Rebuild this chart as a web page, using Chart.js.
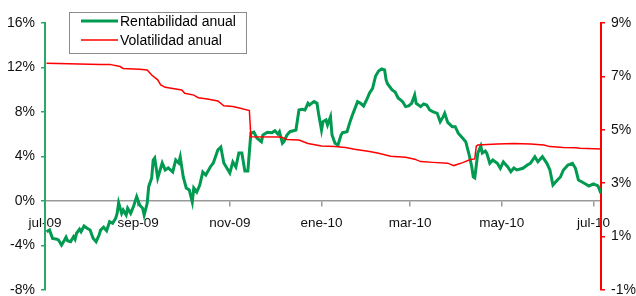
<!DOCTYPE html>
<html>
<head>
<meta charset="utf-8">
<script src="https://cdn.jsdelivr.net/npm/chart.js@4.4.0/dist/chart.umd.min.js"></script>
<style>
  html, body { margin: 0; padding: 0; background: #fff; }
  #wrap { width: 636px; height: 296px; }
</style>
</head>
<body>
<div id="wrap"><canvas id="chart" width="636" height="296"></canvas></div>
<script>
// eje x: días desde el 1-jul-2009
const tickDays = [0, 62, 123, 184, 243, 304, 365];
const tickLabels = ['jul-09', 'sep-09', 'nov-09', 'ene-10', 'mar-10', 'may-10', 'jul-10'];

// Rentabilidad anual (%), eje izquierdo
const rentDays = [1,3,5,8,9,11,13,14,15,17,19,20,21,23,24,26,28,30,32,34,
  36,37,39,41,43,45,47,48,49,51,52,54,55,57,59,61,63,65,66,68,
  69,71,72,73,75,78,80,82,85,87,89,90,92,94,96,98,99,101,103,105,
  107,110,112,115,117,119,121,123,125,127,129,131,133,135,137,139,141,144,145,148,
  151,153,155,156,158,159,161,163,167,169,171,173,175,176,179,181,182,184,185,187,
  188,190,191,193,195,197,198,201,203,205,208,210,212,214,216,218,220,222,224,226,
  227,228,231,233,235,238,240,242,244,246,247,250,252,254,256,258,261,263,265,266,
  268,271,273,275,278,280,282,284,285,286,288,290,291,293,294,296,298,301,303,305,
  308,310,312,314,318,321,323,326,328,331,334,336,338,341,343,345,348,351,353,355,
  358,362,365,368,370];
const rentValues = [-2.76,-2.61,-3.36,-3.44,-3.51,-3.96,-3.51,-3.26,-3.57,-3.66,
  -3.21,-3.44,-2.90,-2.54,-2.76,-2.25,-2.45,-2.61,-3.35,-3.66,
  -3.06,-2.61,-2.36,-2.67,-1.86,-2.00,-1.56,-1.11,-0.15,-1.11,
  -0.81,-1.26,-0.66,-1.11,-0.45,0.39,-0.36,-0.66,-1.26,-0.21,
  1.29,2.07,3.69,3.87,2.07,3.42,2.79,2.97,2.61,3.69,
  3.42,3.96,2.16,1.17,0.99,-0.09,1.17,0.81,1.44,2.61,
  2.34,3.06,3.42,4.58,4.85,3.42,2.97,2.52,3.51,3.06,
  4.31,4.31,2.70,2.70,6.11,6.20,5.66,5.33,5.93,6.18,
  6.14,6.32,6.02,6.23,5.19,5.33,5.93,6.23,6.38,8.18,
  8.24,8.18,8.78,8.63,8.93,8.78,7.88,6.38,7.13,7.28,
  6.83,7.58,5.93,5.19,5.03,5.93,6.14,6.23,7.13,7.88,
  8.93,8.78,8.54,9.08,9.71,10.13,11.24,11.69,11.87,11.78,
  10.88,10.52,9.98,9.80,9.26,8.93,8.48,8.54,8.78,9.53,
  8.78,8.48,8.72,8.63,8.18,8.03,7.88,7.13,7.58,7.88,
  7.06,6.68,6.68,6.09,5.64,5.33,4.29,3.08,2.16,2.07,
  4.31,4.94,4.31,4.49,4.29,3.39,3.69,3.39,2.94,3.51,
  3.06,2.63,2.97,2.79,2.94,3.24,3.39,3.98,3.53,3.98,
  3.39,2.79,1.44,1.89,2.16,2.79,3.24,3.39,2.94,1.89,
  1.66,1.35,1.53,1.35,0.69];

// Volatilidad anual (%), eje derecho
const volDays = [1,37,43,50,52,63,68,71,75,77,80,85,91,93,99,102,108,115,119,125,
  130,136,137,157,161,169,175,184,193,200,206,216,222,230,240,246,250,258,268,272,
  278,283,286,287,288,301,312,323,332,336,345,353,356,370];
const volValues = [7.49,7.45,7.45,7.37,7.30,7.27,7.24,7.05,6.87,6.68,6.59,6.55,6.49,6.37,6.30,6.20,6.15,6.08,5.90,5.87,
  5.81,5.72,4.74,4.73,4.64,4.62,4.49,4.39,4.37,4.34,4.27,4.19,4.12,4.01,3.97,3.90,3.81,3.78,3.75,3.66,
  3.77,3.89,3.91,4.39,4.43,4.47,4.49,4.47,4.43,4.37,4.34,4.33,4.31,4.28];

const FONT = 'Arial, "Liberation Sans", sans-serif';
const GREEN = '#009a50';
const AXIS_GREEN = '#2aa866';
const RED = '#ff0000';

// leyenda con recuadro, como en la hoja original
const legendBox = {
  id: 'legendBox',
  afterDraw(chart) {
    const ctx = chart.ctx;
    ctx.save();
    ctx.fillStyle = '#fff';
    ctx.fillRect(69, 12, 177, 41);
    ctx.strokeStyle = '#8c8c8c';
    ctx.lineWidth = 1;
    ctx.strokeRect(69.5, 12.5, 177, 41);
    ctx.font = '14px ' + FONT;
    ctx.textBaseline = 'middle';
    chart.data.datasets.forEach((ds, i) => {
      const y = 21 + i * 19;
      ctx.strokeStyle = ds.borderColor;
      ctx.lineWidth = ds.borderWidth;
      ctx.beginPath();
      ctx.moveTo(81, y);
      ctx.lineTo(118, y);
      ctx.stroke();
      ctx.fillStyle = '#000';
      ctx.fillText(ds.label, 120, y + 1);
    });
    ctx.restore();
  }
};

new Chart(document.getElementById('chart'), {
  type: 'line',
  data: {
    datasets: [
      {
        label: 'Rentabilidad anual',
        data: rentDays.map((d, i) => ({x: d, y: rentValues[i]})),
        borderColor: GREEN,
        borderWidth: 3,
        pointRadius: 0,
        tension: 0,
        yAxisID: 'y',
        order: 1
      },
      {
        label: 'Volatilidad anual',
        data: volDays.map((d, i) => ({x: d, y: volValues[i]})),
        borderColor: RED,
        borderWidth: 1.5,
        pointRadius: 0,
        tension: 0,
        yAxisID: 'y2',
        order: 0
      }
    ]
  },
  options: {
    responsive: false,
    animation: false,
    devicePixelRatio: 1,
    layout: {padding: {top: 23, bottom: 6, left: 0, right: 0}},
    plugins: {legend: {display: false}, tooltip: {enabled: false}},
    scales: {
      x: {
        type: 'linear',
        position: {y: 0},
        min: 0,
        max: 370,
        afterBuildTicks: s => { s.ticks = tickDays.map(v => ({value: v})); },
        ticks: {
          autoSkip: false,
          maxRotation: 0,
          padding: 9,
          color: '#111',
          font: {family: FONT, size: 13.5},
          callback: v => tickLabels[tickDays.indexOf(v)]
        },
        grid: {display: true, drawOnChartArea: false, drawTicks: true, tickLength: 5, color: '#999', lineWidth: 1.5},
        border: {display: true, color: '#999', width: 1.5}
      },
      y: {
        position: 'left',
        min: -8,
        max: 16,
        afterBuildTicks: s => { s.ticks = [-8, -4, 0, 4, 8, 12, 16].map(v => ({value: v})); },
        afterFit: s => { s.width = 45; s.paddingTop = 0; s.paddingBottom = 0; },
        ticks: {
          padding: 6,
          color: '#111',
          font: {family: FONT, size: 14},
          callback: v => v + '%'
        },
        grid: {display: true, drawOnChartArea: false, drawTicks: true, tickLength: 4, color: AXIS_GREEN, lineWidth: 1.5},
        border: {display: true, color: AXIS_GREEN, width: 2}
      },
      y2: {
        position: 'right',
        min: -1,
        max: 9,
        afterBuildTicks: s => { s.ticks = [-1, 1, 3, 5, 7, 9].map(v => ({value: v})); },
        afterFit: s => { s.width = 35; s.paddingTop = 0; s.paddingBottom = 0; },
        ticks: {
          padding: 6,
          color: '#111',
          font: {family: FONT, size: 14},
          callback: v => v + '%'
        },
        grid: {display: true, drawOnChartArea: false, drawTicks: true, tickLength: 4, color: RED, lineWidth: 1.5},
        border: {display: true, color: RED, width: 2}
      }
    }
  },
  plugins: [legendBox]
});
</script>
</body>
</html>
